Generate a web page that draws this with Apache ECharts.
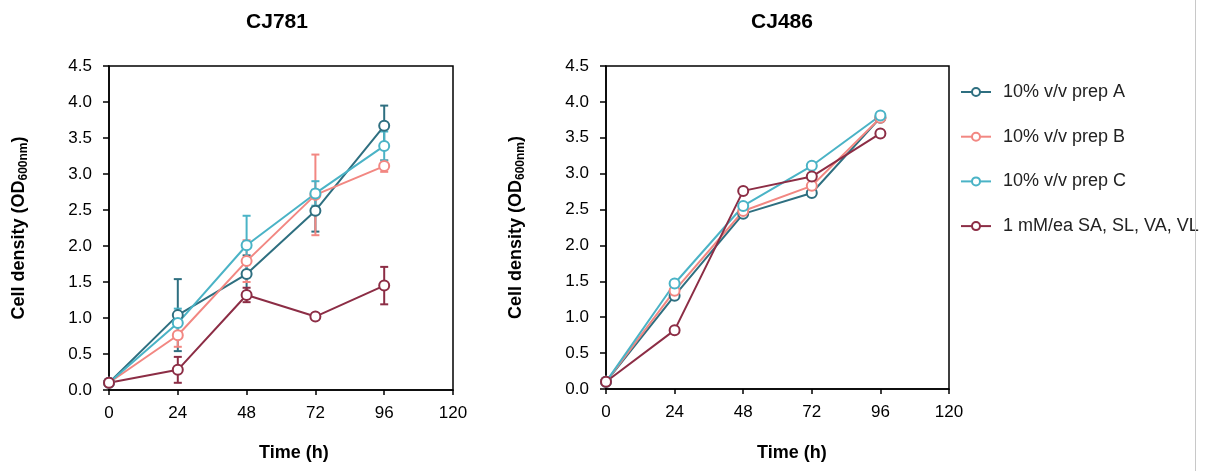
<!DOCTYPE html>
<html><head><meta charset="utf-8">
<script src="https://cdn.jsdelivr.net/npm/echarts@6/dist/echarts.min.js"></script>
<style>html,body{margin:0;padding:0;background:#fff}#c{width:1223px;height:471px}</style>
</head><body><div id="c"></div>
<script>
const times = [0, 24, 48, 72, 96];
const seriesNames = ['10% v/v prep A', '10% v/v prep B', '10% v/v prep C', '1 mM/ea SA, SL, VA, VL'];
const colors = ['#2E6F80', '#F28782', '#4AB3C6', '#8C2D45'];
// CJ781 (left)
const cj781A = [0.10, 1.04, 1.61, 2.49, 3.67];
const cj781B = [0.10, 0.76, 1.79, 2.71, 3.11];
const cj781C = [0.10, 0.93, 2.01, 2.73, 3.39];
const cj781D = [0.10, 0.28, 1.32, 1.02, 1.45];
const cj781ErrA = [0, 0.50, 0.26, 0.29, 0.28];
const cj781ErrB = [0, 0.16, 0.29, 0.56, 0.08];
const cj781ErrC = [0, 0.20, 0.41, 0.17, 0.20];
const cj781ErrD = [0, 0.18, 0.10, 0.02, 0.26];
// CJ486 (right)
const cj486A = [0.10, 1.30, 2.44, 2.73, 3.78];
const cj486B = [0.10, 1.37, 2.48, 2.83, 3.78];
const cj486C = [0.10, 1.47, 2.55, 3.11, 3.81];
const cj486D = [0.10, 0.82, 2.76, 2.96, 3.56];
const xTicks = [0, 24, 48, 72, 96, 120];
const yTicks = [0, 0.5, 1, 1.5, 2, 2.5, 3, 3.5, 4, 4.5];

const FONT = 'Liberation Sans, Arial, sans-serif';
const chart = echarts.init(document.getElementById('c'), null, {renderer: 'canvas'});

function xAxis(gi) {
  return {
    type: 'value', gridIndex: gi, min: xTicks[0], max: xTicks[xTicks.length - 1], interval: 24,
    axisLine: {show: true, lineStyle: {color: '#000', width: 1.5}},
    axisTick: {show: true, length: 5, lineStyle: {color: '#000', width: 1.5}},
    axisLabel: {color: '#000', fontSize: 17, fontFamily: FONT, margin: 15},
    splitLine: {show: false}
  };
}
function yAxis(gi) {
  return {
    type: 'value', gridIndex: gi, min: yTicks[0], max: yTicks[yTicks.length - 1], interval: 0.5,
    axisLine: {show: true, lineStyle: {color: '#000', width: 1.5}},
    axisTick: {show: true, length: 6, lineStyle: {color: '#000', width: 1.5}},
    axisLabel: {color: '#000', fontSize: 17, fontFamily: FONT, margin: 17, formatter: v => v.toFixed(1)},
    splitLine: {show: false},
    name: '{a|Cell density (OD}{s|600nm}{a|)}',
    nameLocation: 'middle', nameRotate: 90, nameGap: 78,
    nameTextStyle: {
      rich: {
        a: {fontSize: 18, fontWeight: 'bold', fontFamily: FONT, color: '#000', lineHeight: 24, verticalAlign: 'middle'},
        s: {fontSize: 12, fontWeight: 'bold', fontFamily: FONT, color: '#000', lineHeight: 24, padding: [10, 0, 0, 0]}
      }
    }
  };
}
function lineSeries(name, data, i, gi) {
  return {
    type: 'line', name: name, xAxisIndex: gi, yAxisIndex: gi,
    data: times.map((t, k) => [t, data[k]]),
    symbol: 'circle', symbolSize: 10, showSymbol: true,
    lineStyle: {color: colors[i], width: 2},
    itemStyle: {color: '#fff', borderColor: colors[i], borderWidth: 2},
    z: 3, animation: false
  };
}
function errSeries(name, data, err, i, gi) {
  return {
    type: 'custom', name: name, xAxisIndex: gi, yAxisIndex: gi,
    data: times.map((t, k) => [t, data[k] - err[k], data[k] + err[k]]),
    renderItem: function (params, api) {
      const lo = api.coord([api.value(0), api.value(1)]);
      const hi = api.coord([api.value(0), api.value(2)]);
      const w = 4;
      const st = {stroke: colors[i], lineWidth: 2};
      return {type: 'group', children: [
        {type: 'line', shape: {x1: lo[0], y1: lo[1], x2: hi[0], y2: hi[1]}, style: st},
        {type: 'line', shape: {x1: lo[0] - w, y1: lo[1], x2: lo[0] + w, y2: lo[1]}, style: st},
        {type: 'line', shape: {x1: hi[0] - w, y1: hi[1], x2: hi[0] + w, y2: hi[1]}, style: st}
      ]};
    },
    z: 2, animation: false
  };
}

const left = [cj781A, cj781B, cj781C, cj781D];
const leftErr = [cj781ErrA, cj781ErrB, cj781ErrC, cj781ErrD];
const right = [cj486A, cj486B, cj486C, cj486D];
const series = [];
left.forEach((d, i) => series.push(errSeries(seriesNames[i] + ' err', d, leftErr[i], i, 0)));
left.forEach((d, i) => series.push(lineSeries(seriesNames[i], d, i, 0)));
right.forEach((d, i) => series.push(lineSeries(seriesNames[i], d, i, 1)));

const option = {
  backgroundColor: '#fff',
  animation: false,
  textStyle: {fontFamily: FONT},
  title: [
    {text: 'CJ781', left: 272, top: 7, textAlign: 'center', textStyle: {fontSize: 21, fontWeight: 'bold', color: '#000', fontFamily: FONT}},
    {text: 'CJ486', left: 777, top: 7, textAlign: 'center', textStyle: {fontSize: 21, fontWeight: 'bold', color: '#000', fontFamily: FONT}}
  ],
  grid: [
    {left: 109, top: 66, width: 344, height: 324, show: true, borderColor: '#000', borderWidth: 1.5, backgroundColor: 'transparent'},
    {left: 606, top: 66, width: 343, height: 323, show: true, borderColor: '#000', borderWidth: 1.5, backgroundColor: 'transparent'}
  ],
  xAxis: [xAxis(0), xAxis(1)],
  yAxis: [yAxis(0), yAxis(1)],
  legend: {
    data: seriesNames, orient: 'vertical', left: 960, top: 83, padding: 0,
    itemWidth: 30, itemHeight: 10, itemGap: 26.7,
    textStyle: {fontSize: 18, color: '#222', fontFamily: FONT, padding: [0, 0, 0, 7], lineHeight: 18}
  },
  graphic: [
    {type: 'text', left: 259, top: 444, style: {text: 'Time (h)', font: 'bold 18px ' + FONT, fill: '#000'}},
    {type: 'text', left: 757, top: 444, style: {text: 'Time (h)', font: 'bold 18px ' + FONT, fill: '#000'}},
    {type: 'line', shape: {x1: 1195.5, y1: 0, x2: 1195.5, y2: 471}, style: {stroke: '#c8c8c8', lineWidth: 1}, z: 10}
  ],
  series: series
};
chart.setOption(option);
</script></body></html>
